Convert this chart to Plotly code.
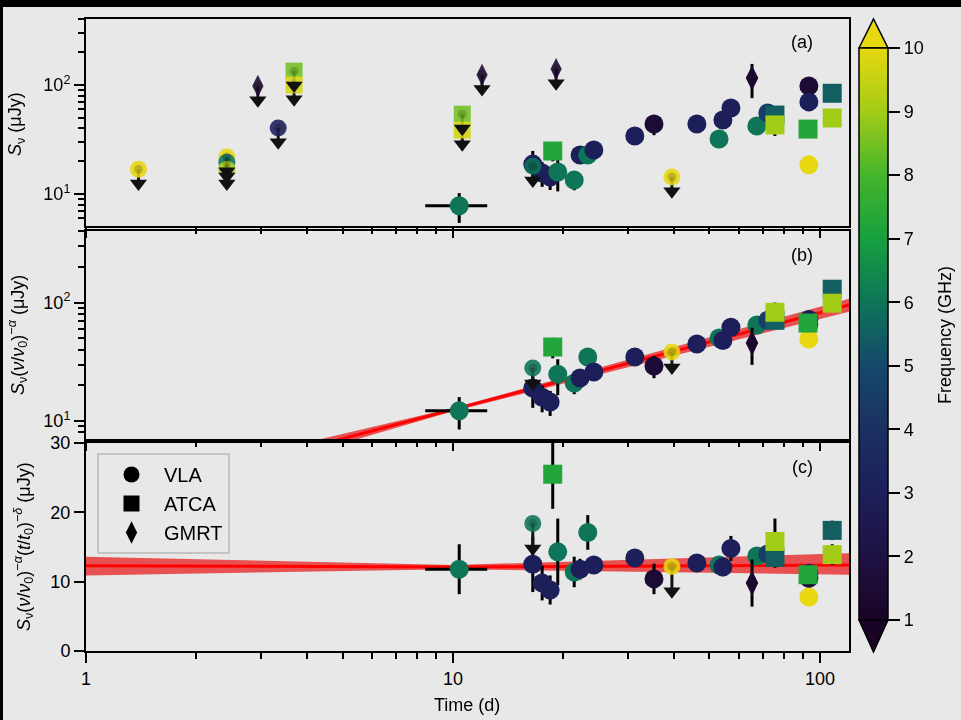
import plotly.graph_objects as go

# ---------------- data ----------------
# detections (shared epochs across panels)
det_t = [10.4, 16.5, 17.5, 18.4, 18.7, 19.3, 21.4, 22.2, 23.3, 24.2, 31.3, 35.3, 46.2,
         53.1, 54.4, 57.2, 65.3, 67.3, 72.1, 75.4, 75.4, 92.8, 93.3, 93.3, 93.3, 108, 108]
det_tel = ["VLA", "VLA", "VLA", "VLA", "ATCA", "VLA", "VLA", "VLA", "VLA", "VLA", "VLA", "VLA", "VLA",
           "VLA", "VLA", "VLA", "GMRT", "VLA", "VLA", "ATCA", "ATCA", "ATCA", "VLA", "VLA", "VLA", "ATCA", "ATCA"]
det_freq = [6, 3, 3, 3, 7.25, 6, 6, 3, 6, 3, 3, 1.5, 3,
            6, 3, 3, 1.3, 6, 4.5, 5.5, 9, 7.25, 1.5, 3, 10, 5.5, 9]
flux_a = [7.8, 18.8, 15.6, 14.3, 24.8, 15.9, 13.4, 22.8, 22.8, 25.3, 34.0, 43.9, 43.9,
          32.0, 47.7, 61.5, 116, 42.0, 55.3, 53.0, 43.0, 39.4, 98, 70, 18.5, 84, 49.8]
flux_b = [12.2, 19.0, 15.9, 14.5, 42.2, 24.9, 20.9, 23.1, 34.7, 26.0, 34.7, 29.2, 44.8,
          50.3, 48.0, 62.0, 45.6, 64.9, 71.0, 71.0, 83.0, 67.3, 66.0, 72.0, 49.4, 130, 99]
flux_c = [11.8, 12.5, 9.8, 8.8, 25.5, 14.3, 11.4, 11.8, 17.1, 12.4, 13.4, 10.4, 12.7,
          12.4, 12.1, 14.8, 9.8, 13.7, 14.0, 13.5, 15.8, 11.0, 10.5, 11.2, 7.8, 17.4, 13.9]
err_c = [3.6, 4.0, 2.5, 2.1, 5.0, 4.8, 2.2, 1.5, 2.5, 1.2, 1.0, 2.2, 0.8,
         0.8, 1.3, 1.8, 3.4, 0.8, 0.8, 1.5, 3.3, 1.2, 1.5, 1.0, 0.8, 1.4, 1.5]
terr = [2.0] + [0.0] * 26

# upper limits
ul_t_a = [1.39, 2.42, 2.42, 2.42, 2.94, 3.34, 3.69, 3.69, 10.6, 10.6, 12.0, 16.5, 19.1, 39.5]
ul_tel_a = ["VLA", "VLA", "VLA", "VLA", "GMRT", "VLA", "ATCA", "ATCA", "ATCA", "ATCA", "GMRT", "VLA", "GMRT", "VLA"]
ul_freq_a = [10, 10, 6, 9, 1.3, 3, 8.5, 9.7, 8.5, 9.7, 1.3, 6, 1.3, 10]
ul_flux_a = [16.9, 21.8, 19.6, 16.9, 98, 40.4, 134, 100, 54, 38.6, 124, 18.0, 140, 14.3]
ul_t_bc = [16.5, 39.5]
ul_tel_bc = ["VLA", "VLA"]
ul_freq_bc = [6, 10]
ul_flux_b = [28.1, 38.3]
ul_flux_c = [18.4, 12.2]

# fits
fit_t = [1, 10, 120]
fit_b = [1.9, 12.5, 95.5]
fit_b_lo = [1.5, 12.1, 84]
fit_b_hi = [2.4, 12.9, 108]
fit_c = [12.3, 12.1, 12.4]
fit_c_lo = [10.9, 11.8, 11.0]
fit_c_hi = [13.6, 12.4, 14.1]

telescopes = ["VLA", "ATCA", "GMRT"]
freq_ticks = [1, 2, 3, 4, 5, 6, 7, 8, 9, 10]

# ---------------- style ----------------
FONT = "Liberation Sans, Arial, sans-serif"
BG = "#e8e8e8"
colorscale = [
    [0.000, "#1a0426"], [0.111, "#1e1243"], [0.222, "#1d1f5a"], [0.333, "#1b3062"],
    [0.444, "#15486a"], [0.556, "#0e7558"], [0.667, "#17a03e"], [0.778, "#45b52c"],
    [0.889, "#a3cc17"], [1.000, "#e7d80f"],
]
CMIN, CMAX = 1, 10
SYM = {"VLA": "circle", "ATCA": "square", "GMRT": "diamond-tall"}
SIZE = {"VLA": 19, "ATCA": 19, "GMRT": 18}

fig = go.Figure()

# plot geometry (pixels) -> paper
W, H = 961, 720
ML, MR, MT, MB = 86, 112, 19, 69
PW, PH = W - ML - MR, H - MT - MB


def px(x):
    return (x - ML) / PW


def py(y):
    return (H - MB - y) / PH


# fit bands and lines
for xa, ya, c, lo, hi in [("x2", "y2", fit_b, fit_b_lo, fit_b_hi), ("x", "y", fit_c, fit_c_lo, fit_c_hi)]:
    fig.add_trace(go.Scatter(x=fit_t, y=lo, xaxis=xa, yaxis=ya, mode="lines",
                             line=dict(width=0, color="rgba(0,0,0,0)"), showlegend=False, hoverinfo="skip"))
    fig.add_trace(go.Scatter(x=fit_t, y=hi, xaxis=xa, yaxis=ya, mode="lines", fill="tonexty",
                             fillcolor="rgba(230,0,0,0.65)", line=dict(width=0, color="rgba(0,0,0,0)"),
                             showlegend=False, hoverinfo="skip"))
    fig.add_trace(go.Scatter(x=fit_t, y=c, xaxis=xa, yaxis=ya, mode="lines",
                             line=dict(width=3, color="#ff0000"), showlegend=False, hoverinfo="skip"))

first = True
panel_specs = [("x3", "y3", flux_a, True), ("x2", "y2", flux_b, True), ("x", "y", flux_c, False)]
for xa, ya, flux, islog in panel_specs:
    for tel in telescopes:
        idx = [i for i in range(len(det_t)) if det_tel[i] == tel]
        if not idx:
            continue
        if islog:
            errs = [flux[i] * err_c[i] / flux_c[i] for i in idx]
        else:
            errs = [err_c[i] for i in idx]
        marker = dict(symbol=SYM[tel], size=SIZE[tel], color=[det_freq[i] for i in idx],
                      colorscale=colorscale, cmin=CMIN, cmax=CMAX, line=dict(width=0))
        if first:
            marker.update(showscale=True, colorbar=dict(
                x=px(859), xanchor="left", xpad=0, ypad=0,
                y=(py(48) + py(620)) / 2, yanchor="middle", len=(620 - 48) / PH, lenmode="fraction",
                thickness=29, thicknessmode="pixels", outlinewidth=1.5, outlinecolor="black",
                tickvals=freq_ticks, ticks="outside", ticklen=12, tickwidth=2, tickcolor="black",
                tickfont=dict(size=18, color="black", family=FONT),
            ))
            first = False
        fig.add_trace(go.Scatter(
            x=[det_t[i] for i in idx], y=[flux[i] for i in idx], xaxis=xa, yaxis=ya, mode="markers",
            marker=marker, showlegend=False,
            error_y=dict(type="data", symmetric=True, array=errs, color="black", thickness=3, width=0),
            error_x=dict(type="data", symmetric=True, array=[terr[i] for i in idx], color="black",
                         thickness=3, width=0),
        ))

# upper limits
ul_specs = [("x3", "y3", ul_t_a, ul_tel_a, ul_freq_a, ul_flux_a, True),
            ("x2", "y2", ul_t_bc, ul_tel_bc, ul_freq_bc, ul_flux_b, True),
            ("x", "y", ul_t_bc, ul_tel_bc, ul_freq_bc, ul_flux_c, False)]
for xa, ya, ts, tels, fr, fl, islog in ul_specs:
    ends = [v * 0.74 if islog else v - 3.6 for v in fl]
    sx, sy = [], []
    for t, v, e in zip(ts, fl, ends):
        sx += [t, t, None]
        sy += [v, e, None]
    fig.add_trace(go.Scatter(x=sx, y=sy, xaxis=xa, yaxis=ya, mode="lines",
                             line=dict(color="#111111", width=3), showlegend=False))
    for tel in telescopes:
        idx = [i for i in range(len(ts)) if tels[i] == tel]
        if not idx:
            continue
        fig.add_trace(go.Scatter(
            x=[ts[i] for i in idx], y=[fl[i] for i in idx], xaxis=xa, yaxis=ya, mode="markers",
            opacity=0.88, showlegend=False,
            marker=dict(symbol=SYM[tel], size=SIZE[tel] - 2, color=[fr[i] for i in idx],
                        colorscale=colorscale, cmin=CMIN, cmax=CMAX, line=dict(width=0))))
    fig.add_trace(go.Scatter(x=ts, y=fl, xaxis=xa, yaxis=ya, mode="markers", showlegend=False,
                             marker=dict(symbol="circle", size=9, color="rgba(0,0,0,0.18)", line=dict(width=0))))
    fig.add_trace(go.Scatter(x=ts, y=ends, xaxis=xa, yaxis=ya, mode="markers", showlegend=False,
                             marker=dict(symbol="triangle-down", size=15, color="#111111", line=dict(width=0))))

# legend entries
for tel in telescopes:
    fig.add_trace(go.Scatter(x=[None], y=[None], xaxis="x", yaxis="y", mode="markers", name=tel,
                             marker=dict(symbol=SYM[tel], size=SIZE[tel] + 2, color="black")))

# ---------------- axes ----------------
XR = [0, 2.0792]
x_minor = [m * d for d in (1, 10) for m in range(2, 10)]
axis_common = dict(showline=True, linecolor="black", linewidth=2, mirror=True, ticks="outside",
                   ticklen=10, tickwidth=2, tickcolor="black", showgrid=False, zeroline=False,
                   automargin=False, tickfont=dict(size=18, color="black", family=FONT))
x_common = dict(axis_common, type="log", range=XR, tickvals=[1, 10, 100], ticktext=["1", "10", "100"],
                minor=dict(tickvals=x_minor, ticks="outside", ticklen=6, tickwidth=2, tickcolor="black"))


def ylog_minor(lo, hi):
    return [m * d for d in (1, 10, 100) for m in range(2, 10) if lo <= m * d <= hi]


fig.update_layout(
    width=W, height=H, margin=dict(l=ML, r=MR, t=MT, b=MB, autoexpand=False),
    paper_bgcolor=BG, plot_bgcolor=BG,
    font=dict(family=FONT, color="black", size=18),
    xaxis=dict(x_common, anchor="y", domain=[0, 1]),
    xaxis2=dict(x_common, anchor="y2", domain=[0, 1], matches="x", showticklabels=False),
    xaxis3=dict(x_common, anchor="y3", domain=[0, 1], matches="x", showticklabels=False),
    yaxis=dict(axis_common, domain=[0, py(443)], range=[0, 30], tickvals=[0, 10, 20, 30], anchor="x"),
    yaxis2=dict(axis_common, domain=[py(439), py(231)], type="log", range=[0.848, 2.606], anchor="x2",
                tickvals=[10, 100], ticktext=["10<sup>1</sup>", "10<sup>2</sup>"],
                minor=dict(tickvals=ylog_minor(7, 400), ticks="outside", ticklen=6, tickwidth=2, tickcolor="black")),
    yaxis3=dict(axis_common, domain=[py(226), 1], type="log", range=[0.706, 2.606], anchor="x3",
                tickvals=[10, 100], ticktext=["10<sup>1</sup>", "10<sup>2</sup>"],
                minor=dict(tickvals=ylog_minor(5, 400), ticks="outside", ticklen=6, tickwidth=2, tickcolor="black")),
    legend=dict(x=px(97), y=py(453), xanchor="left", yanchor="top", bgcolor=BG, bordercolor="#c4c4c4",
                borderwidth=2, font=dict(size=20, family=FONT, color="black"), traceorder="normal",
                itemwidth=55, tracegroupgap=0),
    showlegend=True,
)

# axis titles, colorbar title and panel labels
ann = [
    dict(text="<i>S</i><sub>ν</sub> (μJy)", x=px(16), y=py(124), textangle=-90),
    dict(text="<i>S</i><sub>ν</sub>(<i>ν</i>/<i>ν</i><sub>0</sub>)<sup>−<i>α</i></sup> (μJy)",
         x=px(17), y=py(335), textangle=-90),
    dict(text="<i>S</i><sub>ν</sub>(<i>ν</i>/<i>ν</i><sub>0</sub>)<sup>−<i>α</i></sup>(<i>t</i>/<i>t</i><sub>0</sub>)<sup>−<i>δ</i></sup> (μJy)",
         x=px(23), y=py(547), textangle=-90),
    dict(text="Frequency (GHz)", x=px(945), y=py(335), textangle=-90),
    dict(text="Time (d)", x=px(467), y=py(705), textangle=0),
    dict(text="(a)", x=px(802), y=py(42), textangle=0),
    dict(text="(b)", x=px(802), y=py(255), textangle=0),
    dict(text="(c)", x=px(802), y=py(467), textangle=0),
]
for a in ann:
    fig.add_annotation(xref="paper", yref="paper", showarrow=False, xanchor="center",
                       yanchor="middle", font=dict(size=18, family=FONT, color="black"), **a)

# colorbar extension triangles and black frame strips
xl, xr, xm = px(859), px(888), px(873.5)
fig.add_shape(type="path", xref="paper", yref="paper",
              path=f"M {xl} {py(48)} L {xm} {py(19)} L {xr} {py(48)} Z",
              fillcolor="#e7d80f", line=dict(color="black", width=1.5))
fig.add_shape(type="path", xref="paper", yref="paper",
              path=f"M {xl} {py(620)} L {xm} {py(652)} L {xr} {py(620)} Z",
              fillcolor="#1a0426", line=dict(color="black", width=1.5))
fig.add_shape(type="rect", xref="paper", yref="paper", x0=px(0), x1=px(W), y0=py(7), y1=py(0),
              fillcolor="black", line=dict(width=0))
fig.add_shape(type="rect", xref="paper", yref="paper", x0=px(0), x1=px(3), y0=py(H), y1=py(0),
              fillcolor="black", line=dict(width=0))

fig.write_html("out.html")
